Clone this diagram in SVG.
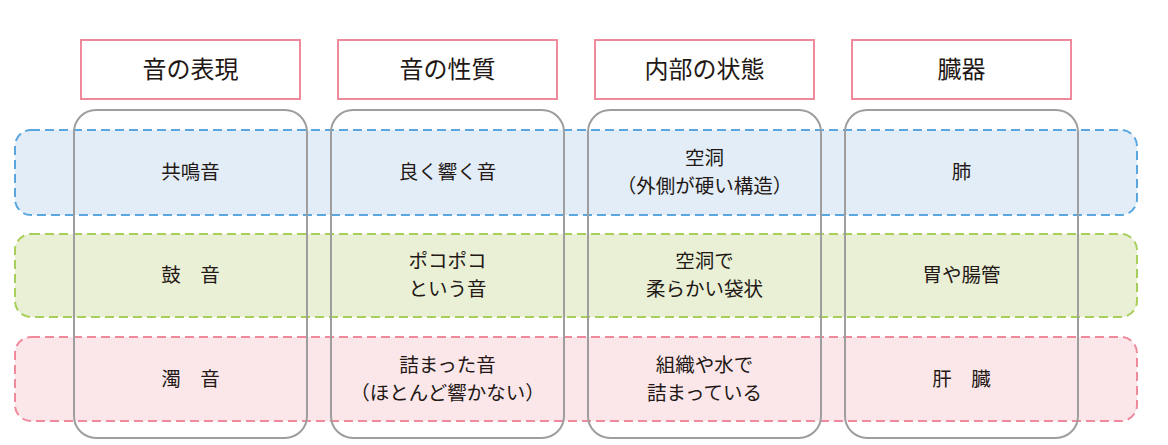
<svg xmlns="http://www.w3.org/2000/svg" width="1168" height="445" viewBox="0 0 1168 445">
<style>
.h{fill:#fff;stroke:#ee8a9b;stroke-width:2}
.c{fill:none;stroke:#9e9e9e;stroke-width:2}
.r{stroke-width:2;stroke-dasharray:9 5}
text{font-family:"Noto Sans CJK JP",sans-serif;fill:#231815;text-anchor:middle}
.ht{font-size:24px}
.t{font-size:19.5px}
</style>
<rect width="1168" height="445" fill="#fff"/>
<g id="rows">
<rect id="row1" class="r" x="15" y="130" width="1122" height="85" rx="16" fill="#e2edf8" stroke="#5aa7df"/>
<rect id="row2" class="r" x="15" y="234" width="1122" height="83" rx="16" fill="#e9f0d6" stroke="#a8cf5a"/>
<rect id="row3" class="r" x="15" y="337" width="1122" height="84" rx="16" fill="#fbe7ea" stroke="#ee8a9b"/>
</g>
<g id="cols">
<rect id="col1" class="c" x="74" y="110" width="233" height="328" rx="22"/>
<rect id="col2" class="c" x="331" y="110" width="233" height="328" rx="22"/>
<rect id="col3" class="c" x="588" y="110" width="233" height="328" rx="22"/>
<rect id="col4" class="c" x="845" y="110" width="233" height="328" rx="22"/>
</g>
<g id="headers">
<g id="h1"><rect class="h" x="81" y="40" width="219" height="59"/><text class="ht" x="190.5" y="78">音の表現</text></g>
<g id="h2"><rect class="h" x="338" y="40" width="219" height="59"/><text class="ht" x="447.5" y="78">音の性質</text></g>
<g id="h3"><rect class="h" x="595" y="40" width="219" height="59"/><text class="ht" x="704.5" y="78">内部の状態</text></g>
<g id="h4"><rect class="h" x="852" y="40" width="219" height="59"/><text class="ht" x="961.5" y="78">臓器</text></g>
</g>
<g id="cells">
<text class="t" x="190.5" y="179">共鳴音</text>
<text class="t" x="447.5" y="179">良く響く音</text>
<text class="t" x="704.5" y="165">空洞</text>
<text class="t" x="704.5" y="193">（外側が硬い構造）</text>
<text class="t" x="961.5" y="179">肺</text>
<text class="t" x="190.5" y="282">鼓　音</text>
<text class="t" x="447.5" y="268">ポコポコ</text>
<text class="t" x="447.5" y="296">という音</text>
<text class="t" x="704.5" y="268">空洞で</text>
<text class="t" x="704.5" y="296">柔らかい袋状</text>
<text class="t" x="961.5" y="282">胃や腸管</text>
<text class="t" x="190.5" y="386">濁　音</text>
<text class="t" x="447.5" y="372">詰まった音</text>
<text class="t" x="447.5" y="400">（ほとんど響かない）</text>
<text class="t" x="704.5" y="372">組織や水で</text>
<text class="t" x="704.5" y="400">詰まっている</text>
<text class="t" x="961.5" y="386">肝　臓</text>
</g>
</svg>
